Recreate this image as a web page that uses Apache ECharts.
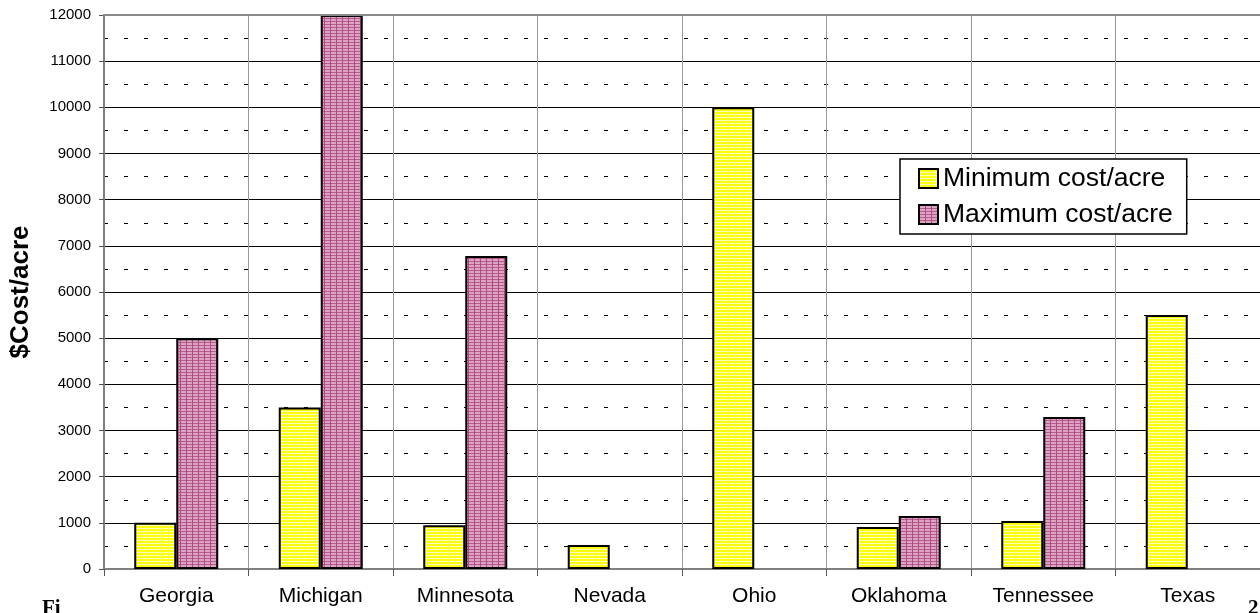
<!DOCTYPE html>
<html>
<head>
<meta charset="utf-8">
<script src="https://cdn.jsdelivr.net/npm/echarts@6/dist/echarts.min.js"></script>
<style>html,body{margin:0;padding:0;background:#fff;}#c{width:1260px;height:613px;}</style>
</head>
<body>
<div id="c"></div>
<script>
const categories = ['Georgia','Michigan','Minnesota','Nevada','Ohio','Oklahoma','Tennessee','Texas'];
const minCost = [1000, 3500, 950, 520, 10000, 910, 1040, 5500];
const maxCost = [5000, 12000, 6780, null, null, 1150, 3290, null];
const seriesNames = ['Minimum cost/acre','Maximum cost/acre'];

function makePattern(bg, hline, vline, hstep, vstep) {
  const c = document.createElement('canvas');
  c.width = vstep; c.height = hstep;
  const ctx = c.getContext('2d');
  ctx.fillStyle = bg; ctx.fillRect(0,0,c.width,c.height);
  ctx.fillStyle = hline; ctx.fillRect(0,0,c.width,1);
  if (vline) { ctx.fillStyle = vline; ctx.fillRect(0,0,1,c.height); }
  return {image: c, repeat: 'repeat'};
}
const yellowPat = makePattern('#ffff00', '#ffffc8', '#f8f860', 3, 7);
const pinkPat = makePattern('#dba4c2', '#b95a8c', '#b04a82', 3, 6);

const chart = echarts.init(document.getElementById('c'));
chart.setOption({
  animation: false,
  backgroundColor: '#fff',
  grid: {left: 103, top: 15, bottom: 44, width: 1160},
  legend: {
    left: 900, top: 159, orient: 'vertical',
    backgroundColor: '#fff', borderColor: '#000', borderWidth: 1.5, borderRadius: 0,
    padding: [6, 14, 6, 18], itemGap: 9, itemWidth: 19, itemHeight: 19, itemTextGap: 5,
    icon: 'rect',
    textStyle: {fontFamily: 'Liberation Sans, Arial', fontSize: 26.5, color: '#000'},
    data: seriesNames
  },
  xAxis: {
    type: 'category', data: categories,
    axisLine: {lineStyle: {color: '#808080', width: 2}},
    axisTick: {show: true, length: 7, lineStyle: {color: '#555'}},
    axisLabel: {fontFamily: 'Liberation Sans, Arial', fontSize: 21, color: '#000', margin: 17},
    splitLine: {show: true, lineStyle: {color: '#9a9a9a', width: 1}}
  },
  yAxis: {
    type: 'value', min: 0, max: 12000, interval: 1000,
    name: '$Cost/acre', nameLocation: 'middle', nameGap: 70, nameRotate: 90,
    nameTextStyle: {fontFamily: 'Liberation Sans, Arial', fontSize: 26, fontWeight: 'bold', color: '#000'},
    axisLine: {show: true, lineStyle: {color: '#808080', width: 2}},
    axisTick: {show: true, length: 5, lineStyle: {color: '#555'}},
    axisLabel: {fontFamily: 'Liberation Sans, Arial', fontSize: 15, color: '#000', margin: 13,
                formatter: function (v) { return String(v); }},
    splitLine: {show: true, lineStyle: {color: '#000', width: 1}},
    minorTick: {show: false, splitNumber: 2},
    minorSplitLine: {show: true, lineStyle: {color: '#000', width: 1, type: [4, 16]}}
  },
  series: [
    {name: seriesNames[0], type: 'bar', data: minCost, barWidth: 42, barGap: '0%',
     itemStyle: {color: yellowPat, borderColor: '#000', borderWidth: 2}},
    {name: seriesNames[1], type: 'bar', data: maxCost, barWidth: 42, barGap: '0%',
     itemStyle: {color: pinkPat, borderColor: '#000', borderWidth: 2}}
  ],
  graphic: [
    {type: 'line', shape: {x1: 103, y1: 15, x2: 1260, y2: 15}, style: {stroke: '#8a8a8a', lineWidth: 2}, z: 10},
    {type: 'text', left: 42, top: 598, style: {text: 'Fi', font: 'bold 21px "Liberation Serif", "Times New Roman"', fill: '#000'}},
    {type: 'text', left: 1248, top: 598, style: {text: '2', font: 'bold 21px "Liberation Serif", "Times New Roman"', fill: '#000'}}
  ]
});
</script>
</body>
</html>
